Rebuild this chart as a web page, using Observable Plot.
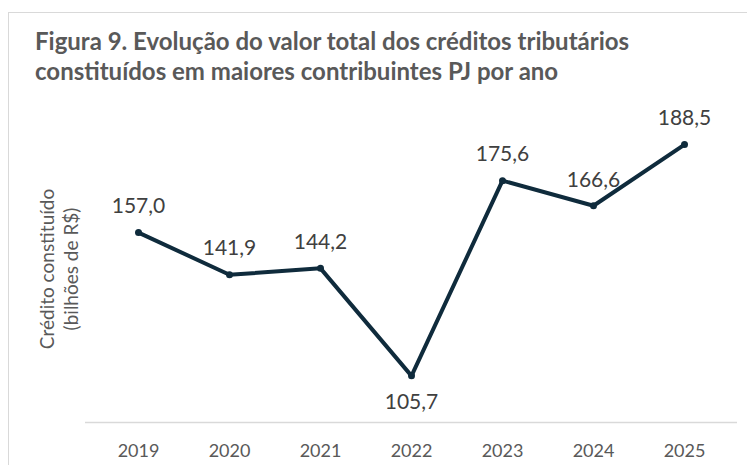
<!DOCTYPE html>
<html>
<head>
<meta charset="utf-8">
<script src="https://cdn.jsdelivr.net/npm/d3@7"></script>
<script src="https://cdn.jsdelivr.net/npm/@observablehq/plot@0.6"></script>
<style>
  html, body { margin: 0; padding: 0; background: #fff; width: 747px; height: 465px; overflow: hidden; }
  #frame { position: absolute; left: 8px; top: 12px; width: 800px; height: 500px; border-left: 1px solid #d9d9d9; border-top: 1px solid #d9d9d9; }
  #title { position: absolute; left: 35px; top: 26px; font-family: Lato, sans-serif; font-weight: bold; font-size: 24px; line-height: 30px; color: #595959; white-space: nowrap; }
  #chart { position: absolute; left: 0; top: 100px; }
</style>
</head>
<body>
<div id="frame"></div>
<div id="title">Figura 9. Evolução do valor total dos créditos tributários<br>constituídos em maiores contribuintes PJ por ano</div>
<div id="chart"></div>
<script>
const years = ["2019", "2020", "2021", "2022", "2023", "2024", "2025"];
const values = [157.0, 141.9, 144.2, 105.7, 175.6, 166.6, 188.5];
const labels = ["157,0", "141,9", "144,2", "105,7", "175,6", "166,6", "188,5"];
const below = [false, false, false, true, false, false, false];

const data = years.map((y, i) => ({year: y, value: values[i], label: labels[i], below: below[i]}));
const yMin = 89, yMax = 200;
const lineColor = "#0f2b3c";

const plot = Plot.plot({
  width: 747,
  height: 365,
  marginLeft: 85,
  marginRight: 10,
  marginTop: 12,
  marginBottom: 43,
  style: { fontFamily: "Lato, sans-serif", background: "transparent" },
  x: { type: "band", domain: years, label: null },
  y: { domain: [yMin, yMax], axis: null },
  marks: [
    Plot.ruleY([yMin], { stroke: "#d9d9d9", strokeWidth: 1.5 }),
    Plot.axisX({ tickSize: 0, tickPadding: 22, fontSize: 18, fill: "#595959", label: null }),
    Plot.line(data, { x: "year", y: "value", stroke: lineColor, strokeWidth: 4, strokeLinejoin: "round" }),
    Plot.dot(data, { x: "year", y: "value", r: 3.5, fill: lineColor }),
    Plot.text(data.filter(d => !d.below), { x: "year", y: "value", text: "label", dy: -26, fontSize: 21, fill: "#404040" }),
    Plot.text(data.filter(d => d.below), { x: "year", y: "value", text: "label", dy: 26, fontSize: 21, fill: "#404040" })
  ]
});
document.getElementById("chart").appendChild(plot);

const svg = d3.select(plot);
const g = svg.append("g")
  .attr("font-family", "Lato, sans-serif")
  .attr("font-size", 19)
  .attr("fill", "#595959")
  .attr("text-anchor", "middle");
g.append("text").attr("transform", "translate(47,169) rotate(-90)").attr("dy", "0.35em").text("Crédito constituído");
g.append("text").attr("transform", "translate(71,169) rotate(-90)").attr("dy", "0.35em").text("(bilhões de R$)");
</script>
</body>
</html>
